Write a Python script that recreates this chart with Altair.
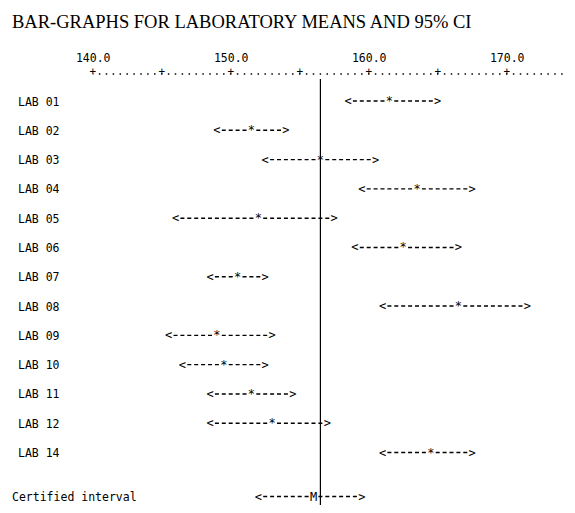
import altair as alt
import pandas as pd

TITLE = "BAR-GRAPHS FOR LABORATORY MEANS AND 95% CI"

labs = ["LAB 01", "LAB 02", "LAB 03", "LAB 04", "LAB 05", "LAB 06", "LAB 07",
        "LAB 08", "LAB 09", "LAB 10", "LAB 11", "LAB 12", "LAB 14"]
lab_lo = [158.5, 149.0, 152.5, 159.5, 146.0, 159.0, 148.5, 161.0, 145.5, 146.5, 148.5, 148.5, 161.0]
lab_mean = [161.5, 151.5, 156.5, 163.5, 152.0, 162.5, 150.5, 166.5, 149.0, 149.5, 151.5, 153.0, 164.5]
lab_hi = [165.0, 154.0, 160.5, 167.5, 157.5, 166.5, 152.5, 171.5, 153.0, 152.5, 154.5, 157.0, 167.5]

cert_name = "Certified interval"
cert_lo, cert_mean, cert_hi = 152.0, 156.0, 159.5

ref_value = 156.5
axis_labels = [140, 150, 160, 170]
plus_ticks = [140, 145, 150, 155, 160, 165, 170]
axis_start, axis_end = 140, 174.5

MONO = "DejaVu Sans Mono"

n = len(labs)
df = pd.DataFrame({
    "name": labs + [cert_name],
    "lo": lab_lo + [cert_lo],
    "mean": lab_mean + [cert_mean],
    "hi": lab_hi + [cert_hi],
    "row": list(range(n)) + [n + 0.5],
    "sym": ["*"] * n + ["M"],
    "kind": ["lab"] * n + ["cert"],
})

xscale = alt.Scale(domain=[140, 170], range=[84.7, 498.7], nice=False, zero=False)
yscale = alt.Scale(domain=[0, 13.5], range=[29, 424.5], nice=False, zero=False)
axis = alt.Axis(orient="top", values=axis_labels, format=".1f", labelFont=MONO,
                labelFontSize=11.5, labelColor="black", domain=False, ticks=False,
                tickSize=0, grid=False, labelPadding=9, title=None, labelFlush=False)


def X(field):
    return alt.X(f"{field}:Q", scale=xscale, axis=axis)


Y = alt.Y("row:Q", scale=yscale, axis=None)

base = alt.Chart(df)

dash_kw = dict(color="black", strokeWidth=1.4, strokeDash=[4, 2.9], strokeDashOffset=5.45,
               xOffset=3.45, x2Offset=-3.45)
left_dash = base.mark_rule(**dash_kw).encode(x=X("lo"), x2="mean", y=Y)
right_dash = base.mark_rule(**dash_kw).encode(x=X("mean"), x2="hi", y=Y)

txt_kw = dict(font=MONO, fontSize=12, baseline="middle", align="center", color="black")
lt = base.mark_text(text="<", **txt_kw).encode(x=X("lo"), y=Y)
gt = base.mark_text(text=">", **txt_kw).encode(x=X("hi"), y=Y)
sym = base.mark_text(**txt_kw).encode(x=X("mean"), y=Y, text="sym:N")

name_kw = dict(font=MONO, fontSize=11.5, baseline="middle", align="left", color="black", dy=1.5)
names_lab = base.transform_filter("datum.kind == 'lab'").mark_text(**name_kw).encode(
    x=alt.value(10), y=Y, text="name:N")
names_cert = base.transform_filter("datum.kind == 'cert'").mark_text(**name_kw).encode(
    x=alt.value(4), y=Y, text="name:N")

ref = alt.Chart(pd.DataFrame({"v": [ref_value]})).mark_rule(color="black", strokeWidth=1.2).encode(
    x=X("v"), y=alt.value(7), y2=alt.value(433))

dotted = alt.Chart(pd.DataFrame({"start": [axis_start], "end": [axis_end]})).mark_rule(
    color="black", strokeWidth=1.5, strokeDash=[1.5, 5.4], strokeDashOffset=0.75).encode(
    x=X("start"), x2="end", y=alt.value(2))
pluses = alt.Chart(pd.DataFrame({"t": plus_ticks})).mark_text(
    text="+", font=MONO, fontSize=11, baseline="middle", align="center", color="black").encode(
    x=X("t"), y=alt.value(0))

chart = alt.layer(dotted, pluses, ref, left_dash, right_dash, lt, gt, sym, names_lab, names_cert).properties(
    width=559, height=433,
    padding={"left": 0, "top": 64, "right": 0, "bottom": 0},
    autosize=alt.AutoSizeParams(type="none"),
    title=alt.Title(TITLE, anchor="start", font="Liberation Serif", fontSize=18.5,
                    fontWeight="normal", color="black", offset=21, dx=4),
).configure_view(stroke=None)

chart.save("out.html", embed_options={"renderer": "svg", "actions": False})
